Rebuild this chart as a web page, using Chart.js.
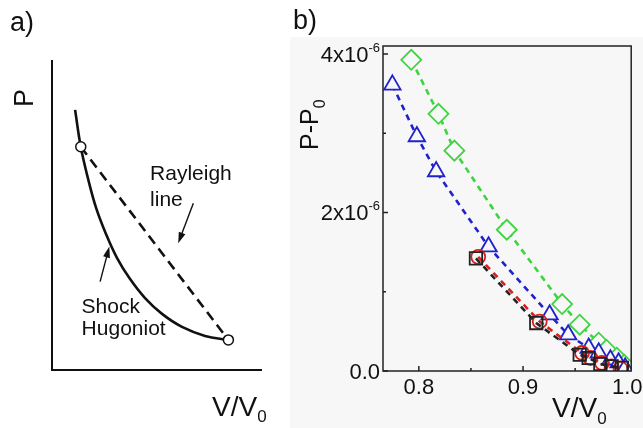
<!DOCTYPE html>
<html>
<head>
<meta charset="utf-8">
<script src="https://cdn.jsdelivr.net/npm/chart.js@4.4.1/dist/chart.umd.min.js"></script>
<style>
  html, body { margin: 0; padding: 0; background: #fff; }
  #wrap { position: relative; width: 643px; height: 428px; overflow: hidden; }
  #wrap canvas { position: absolute; left: 0; top: 0; }
</style>
</head>
<body>
<div id="wrap">
  <canvas id="chart-a" width="643" height="428"></canvas>
  <canvas id="chart-b" width="643" height="428"></canvas>
</div>
<script>
// ═══════════════════════════════════════════
// DATA
// ═══════════════════════════════════════════
// a) schematic, arbitrary units
const hugoniotV = [1.10, 1.37, 1.71, 2.10, 2.57, 3.10, 3.71, 4.43, 5.24, 6.19, 7.29, 8.40];
const hugoniotP = [8.39, 7.20, 6.19, 5.23, 4.39, 3.61, 2.94, 2.32, 1.81, 1.39, 1.10, 0.97];
const rayleighV = [1.37, 8.40];
const rayleighP = [7.20, 0.97];
const noteText = ['Rayleigh', 'line', 'Shock', 'Hugoniot'];
const noteV = [4.67, 4.67, 1.41, 1.41];
const noteP = [6.13, 5.29, 1.83, 1.13];
const arrowFromV = [6.73, 2.29];
const arrowFromP = [5.38, 2.85];
const arrowToV = [6.01, 2.73];
const arrowToP = [4.09, 3.98];

// b) P-P0 in units of 1e-6
const diamondV = [0.7927, 0.8188, 0.8341, 0.8844, 0.9375, 0.9544, 0.9726, 0.9800, 0.9900, 0.9970];
const diamondP = [3.926, 3.245, 2.780, 1.782, 0.845, 0.584, 0.357, 0.269, 0.168, 0.080];
const triangleV = [0.7746, 0.7981, 0.8166, 0.8669, 0.9255, 0.9433, 0.9630, 0.9726, 0.9838, 0.9917, 0.9980];
const triangleP = [3.610, 2.958, 2.517, 1.568, 0.710, 0.458, 0.290, 0.230, 0.142, 0.105, 0.040];
const circleV = [0.8570, 0.9160, 0.9566, 0.9647, 0.9757, 0.9850, 0.9936];
const circleP = [1.440, 0.624, 0.227, 0.164, 0.101, 0.058, 0.030];
const squareV = [0.8548, 0.9127, 0.9544, 0.9630, 0.9742, 0.9850, 0.9948];
const squareP = [1.420, 0.605, 0.205, 0.164, 0.088, 0.058, 0.040];

const xMajorTicks = [0.8, 0.9, 1.0];
const xMajorLabels = ['0.8', '0.9', '1.0'];
const xMinorTicks = [0.85, 0.95];
const yMajorTicks = [0, 2, 4];
const yTickBase = ['0.0', '2x10', '4x10'];
const yTickSup = ['', '-6', '-6'];
const yMinorTicks = [1, 3];

const FONT = "'Liberation Sans', Arial, sans-serif";
const BG_B = '#f7f7f7';
const pts = (xs, ys) => xs.map((x, i) => ({ x, y: ys[i] }));

// texto con sub/superíndices: parts = [{t, size, dy}]
function drawRich(ctx, x, y, parts, align) {
  let total = 0;
  parts.forEach(p => { ctx.font = `${p.size}px ${FONT}`; total += ctx.measureText(p.t).width; });
  let cx = align === 'right' ? x - total : align === 'center' ? x - total / 2 : x;
  ctx.textAlign = 'left';
  ctx.textBaseline = 'alphabetic';
  parts.forEach(p => {
    ctx.font = `${p.size}px ${FONT}`;
    ctx.fillText(p.t, cx, y + (p.dy || 0));
    cx += ctx.measureText(p.t).width;
  });
}

// ═══════════════════════════════════════════
// PANEL a
// ═══════════════════════════════════════════
const panelA = {
  id: 'panelA',
  afterDatasetsDraw(chart) {
    const { ctx, chartArea: ca, scales: { x, y } } = chart;
    ctx.save();
    ctx.fillStyle = '#111';
    ctx.strokeStyle = '#111';

    // ejes
    ctx.lineWidth = 2;
    ctx.beginPath();
    ctx.moveTo(ca.left, ca.top);
    ctx.lineTo(ca.left, ca.bottom);
    ctx.lineTo(ca.right, ca.bottom);
    ctx.stroke();

    // flechas
    ctx.lineWidth = 1.4;
    arrowFromV.forEach((v, i) => {
      const x0 = x.getPixelForValue(v), y0 = y.getPixelForValue(arrowFromP[i]);
      const x1 = x.getPixelForValue(arrowToV[i]), y1 = y.getPixelForValue(arrowToP[i]);
      const ang = Math.atan2(y1 - y0, x1 - x0);
      const L = 11, W = 3.5;
      ctx.beginPath();
      ctx.moveTo(x0, y0);
      ctx.lineTo(x1 - Math.cos(ang) * L * 0.8, y1 - Math.sin(ang) * L * 0.8);
      ctx.stroke();
      ctx.beginPath();
      ctx.moveTo(x1, y1);
      ctx.lineTo(x1 - Math.cos(ang) * L - Math.sin(ang) * W, y1 - Math.sin(ang) * L + Math.cos(ang) * W);
      ctx.lineTo(x1 - Math.cos(ang) * L + Math.sin(ang) * W, y1 - Math.sin(ang) * L - Math.cos(ang) * W);
      ctx.closePath();
      ctx.fill();
    });

    // etiquetas
    noteText.forEach((t, i) => {
      drawRich(ctx, x.getPixelForValue(noteV[i]), y.getPixelForValue(noteP[i]), [{ t, size: 21 }]);
    });

    // títulos
    drawRich(ctx, 10, 31, [{ t: 'a)', size: 27 }]);
    drawRich(ctx, 212, 416, [{ t: 'V/V', size: 28 }, { t: '0', size: 17, dy: 6 }]);
    ctx.translate(33, 107);
    ctx.rotate(-Math.PI / 2);
    drawRich(ctx, 0, 0, [{ t: 'P', size: 27 }]);
    ctx.restore();
  }
};

new Chart(document.getElementById('chart-a'), {
  type: 'scatter',
  data: {
    datasets: [
      {
        data: pts(hugoniotV, hugoniotP), showLine: true, tension: 0.4,
        borderColor: '#111', borderWidth: 2.6, pointRadius: 0, order: 2
      },
      {
        data: pts(rayleighV, rayleighP), showLine: true, borderDash: [10, 6],
        borderColor: '#111', borderWidth: 2.6, pointRadius: 0, order: 3
      },
      {
        data: pts(rayleighV, rayleighP), showLine: false, pointRadius: 5,
        pointBackgroundColor: '#fff', pointBorderColor: '#111', pointBorderWidth: 1.5, order: 1
      }
    ]
  },
  options: {
    responsive: false, animation: false, events: [],
    layout: { padding: { left: 52, top: 60, right: 381, bottom: 58 } },
    plugins: { legend: { display: false }, tooltip: { enabled: false } },
    scales: {
      x: { type: 'linear', display: false, min: 0, max: 10 },
      y: { type: 'linear', display: false, min: 0, max: 10 }
    }
  },
  plugins: [panelA]
});

// ═══════════════════════════════════════════
// PANEL b
// ═══════════════════════════════════════════
const panelB = {
  id: 'panelB',
  beforeDraw(chart) {
    const { ctx } = chart;
    ctx.save();
    ctx.fillStyle = BG_B;
    ctx.fillRect(290, 37, 353, 391);
    ctx.restore();
  },
  afterDraw(chart) {
    const { ctx, chartArea: ca, scales: { x, y } } = chart;
    ctx.save();
    ctx.strokeStyle = '#222';
    ctx.fillStyle = '#111';
    ctx.lineWidth = 1.5;
    ctx.strokeRect(ca.left, ca.top, ca.right - ca.left, ca.bottom - ca.top);

    // marcas hacia adentro
    ctx.beginPath();
    xMajorTicks.forEach(v => { const px = x.getPixelForValue(v); ctx.moveTo(px, ca.bottom); ctx.lineTo(px, ca.bottom - 5); });
    xMinorTicks.forEach(v => { const px = x.getPixelForValue(v); ctx.moveTo(px, ca.bottom); ctx.lineTo(px, ca.bottom - 3); });
    yMajorTicks.forEach(v => { const py = y.getPixelForValue(v); ctx.moveTo(ca.left, py); ctx.lineTo(ca.left + 5, py); });
    yMinorTicks.forEach(v => { const py = y.getPixelForValue(v); ctx.moveTo(ca.left, py); ctx.lineTo(ca.left + 3, py); });
    ctx.stroke();

    xMajorTicks.forEach((v, i) => {
      drawRich(ctx, x.getPixelForValue(v), ca.bottom + 23, [{ t: xMajorLabels[i], size: 22 }], 'center');
    });
    yMajorTicks.forEach((v, i) => {
      const parts = [{ t: yTickBase[i], size: 22 }];
      if (yTickSup[i]) parts.push({ t: yTickSup[i], size: 13, dy: -10 });
      drawRich(ctx, ca.left - 3, y.getPixelForValue(v) + 8, parts, 'right');
    });

    drawRich(ctx, 293, 29, [{ t: 'b)', size: 27 }]);
    drawRich(ctx, 552, 417, [{ t: 'V/V', size: 28 }, { t: '0', size: 17, dy: 7 }]);
    ctx.translate(318, 150);
    ctx.rotate(-Math.PI / 2);
    drawRich(ctx, 0, 0, [{ t: 'P-P', size: 25 }, { t: '0', size: 16, dy: 7 }]);
    ctx.restore();
  }
};

const serie = (xs, ys, color, style, radius, fill) => ({
  data: pts(xs, ys), showLine: true, borderDash: [6, 5], borderWidth: 2.6,
  borderColor: color, pointStyle: style, pointRadius: radius,
  pointBorderColor: color, pointBackgroundColor: fill, pointBorderWidth: 1.8
});

new Chart(document.getElementById('chart-b'), {
  type: 'scatter',
  data: {
    datasets: [
      serie(squareV, squareP, '#222', 'rect', 8.8, 'rgba(0,0,0,0)'),
      serie(circleV, circleP, '#d42020', 'circle', 7, 'rgba(0,0,0,0)'),
      serie(triangleV, triangleP, '#2222cc', 'triangle', 9.5, BG_B),
      serie(diamondV, diamondP, '#3fd43f', 'rectRot', 10, BG_B)
    ]
  },
  options: {
    responsive: false, animation: false, events: [],
    layout: { padding: { left: 383, top: 46, right: 10, bottom: 57 } },
    plugins: { legend: { display: false }, tooltip: { enabled: false } },
    scales: {
      x: { type: 'linear', display: false, min: 0.7656, max: 1.0038 },
      y: { type: 'linear', display: false, min: 0, max: 4.1 }
    }
  },
  plugins: [panelB]
});
</script>
</body>
</html>
